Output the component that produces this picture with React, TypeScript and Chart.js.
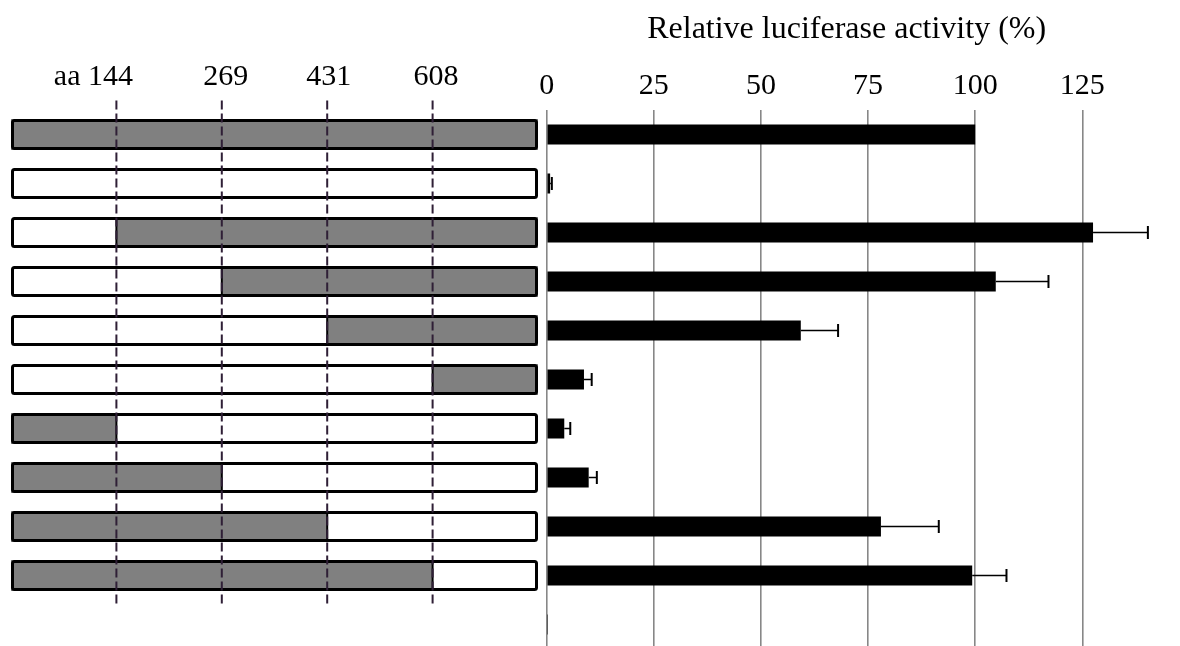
import React, { useEffect, useRef } from 'react';
import { Chart, registerables } from 'chart.js';

Chart.register(...registerables);

// One row per construct, top to bottom; the last row is the empty-vector control.
const constructs = ['1', '2', '3', '4', '5', '6', '7', '8', '9', '10', '11'];
const activity = [100, 0.8, 127.5, 104.8, 59.3, 8.7, 4.1, 9.8, 78.0, 99.3, 0.3];
const activityErr = [0, 0.4, 12.8, 12.3, 8.7, 1.8, 1.4, 1.9, 13.5, 8.0, 0];

// Grey (retained) region of each construct, as a range of the five segments.
// null = no construct drawn for that row.
const grayFrom: (number | null)[] = [0, 0, 1, 2, 3, 4, 0, 0, 0, 0, null];
const grayTo: (number | null)[] = [5, 0, 5, 5, 5, 5, 1, 2, 3, 4, null];

// Amino-acid breakpoints between the segments.
const breakpoints = [144, 269, 431, 608];
const breakpointPrefix = 'aa ';

const xTicks = [0, 25, 50, 75, 100, 125];
const xMax = 140;
const axisTitle = 'Relative luciferase activity (%)';

const SERIF = '"Liberation Serif", "Times New Roman", serif';

// Construct panel geometry (canvas pixels)
const PANEL_LEFT = 11;
const PANEL_RIGHT = 538;
const SEGMENTS = 5;
const BOX_HALF = 15.5;
// horizontal nudge of each breakpoint label relative to its guide line
const LABEL_DX = [-23, 4, 1.5, 3.5];

const constructPanel = {
  id: 'constructPanel',
  afterDraw(chart: any) {
    const ctx: CanvasRenderingContext2D = chart.ctx;
    const yScale = chart.scales.y;
    const segW = (PANEL_RIGHT - PANEL_LEFT) / SEGMENTS;
    const segX = (k: number) => PANEL_LEFT + k * segW;
    ctx.save();

    constructs.forEach((_, i) => {
      const from = grayFrom[i];
      const to = grayTo[i];
      if (from === null || to === null) return;
      const cy = yScale.getPixelForValue(i);
      const top = cy - BOX_HALF;
      const h = BOX_HALF * 2;
      // white body
      ctx.fillStyle = '#ffffff';
      ctx.fillRect(PANEL_LEFT, top, PANEL_RIGHT - PANEL_LEFT, h);
      // grey retained region
      if (to > from) {
        ctx.fillStyle = '#808080';
        ctx.fillRect(segX(from), top, segX(to) - segX(from), h);
      }
      // internal grey/white boundaries
      ctx.strokeStyle = '#000';
      ctx.lineWidth = 2;
      [from, to].forEach((k) => {
        if (to > from && k > 0 && k < SEGMENTS) {
          ctx.beginPath();
          ctx.moveTo(segX(k), top + 1.5);
          ctx.lineTo(segX(k), top + h - 1.5);
          ctx.stroke();
        }
      });
      // outline
      ctx.lineWidth = 3;
      ctx.lineJoin = 'round';
      ctx.beginPath();
      ctx.roundRect(PANEL_LEFT + 1.5, top + 1.5, PANEL_RIGHT - PANEL_LEFT - 3, h - 3, 2);
      ctx.stroke();
    });

    // dashed breakpoint guides
    const firstY = yScale.getPixelForValue(0) - 34;
    const lastY = yScale.getPixelForValue(9) + 30;
    ctx.strokeStyle = '#2f1f36';
    ctx.lineWidth = 2;
    ctx.setLineDash([9, 4]);
    breakpoints.forEach((_, k) => {
      const x = segX(k + 1);
      ctx.beginPath();
      ctx.moveTo(x, firstY);
      ctx.lineTo(x, lastY);
      ctx.stroke();
    });
    ctx.setLineDash([]);

    // breakpoint labels
    ctx.font = `30px ${SERIF}`;
    ctx.fillStyle = '#000';
    ctx.textBaseline = 'alphabetic';
    ctx.textAlign = 'center';
    const labelY = yScale.getPixelForValue(0) - 49.5;
    breakpoints.forEach((aa, k) => {
      const text = (k === 0 ? breakpointPrefix : '') + String(aa);
      ctx.fillText(text, segX(k + 1) + LABEL_DX[k], labelY);
    });
    ctx.restore();
  },
};

const errorBars = {
  id: 'errorBars',
  afterDatasetsDraw(chart: any) {
    const ctx: CanvasRenderingContext2D = chart.ctx;
    const xs = chart.scales.x;
    const ys = chart.scales.y;
    ctx.save();
    ctx.strokeStyle = '#000';
    activity.forEach((v, i) => {
      const e = activityErr[i];
      if (!e) return;
      const y = ys.getPixelForValue(i);
      const x0 = xs.getPixelForValue(v);
      const x1 = xs.getPixelForValue(v + e);
      ctx.lineWidth = 1.5;
      ctx.beginPath();
      ctx.moveTo(x0, y);
      ctx.lineTo(x1, y);
      ctx.stroke();
      ctx.lineWidth = 2;
      ctx.beginPath();
      ctx.moveTo(x1, y - 6.5);
      ctx.lineTo(x1, y + 6.5);
      ctx.stroke();
    });
    ctx.restore();
  },
};

export default function App() {
  const canvasRef = useRef<HTMLCanvasElement | null>(null);

  useEffect(() => {
    if (!canvasRef.current) return;
    const chart = new Chart(canvasRef.current, {
      type: 'bar',
      data: {
        labels: constructs,
        datasets: [
          {
            data: activity,
            backgroundColor: '#000',
            borderWidth: 0,
            barPercentage: 0.41,
            categoryPercentage: 1,
          },
        ],
      },
      options: {
        indexAxis: 'y',
        responsive: false,
        animation: false,
        layout: { padding: { left: 546.7, right: 33.4, top: 0, bottom: 3 } },
        plugins: {
          legend: { display: false },
          tooltip: { enabled: false },
          title: {
            display: true,
            text: axisTitle,
            fullSize: false,
            color: '#000',
            font: { family: SERIF, size: 32, weight: 'normal' },
            padding: { top: 10.5, bottom: 14.1 },
          },
        },
        scales: {
          x: {
            position: 'top',
            min: 0,
            max: xMax,
            afterBuildTicks: (scale: any) => {
              scale.ticks = xTicks.map((value) => ({ value }));
            },
            border: { display: false },
            grid: { color: '#878787', lineWidth: 1.6, drawTicks: false },
            ticks: {
              padding: 5.5,
              color: '#000',
              font: { family: SERIF, size: 30 },
            },
          },
          y: {
            display: false,
          },
        },
      },
      plugins: [constructPanel, errorBars],
    });
    return () => chart.destroy();
  }, []);

  return (
    <div
      style={{
        position: 'fixed',
        left: 0,
        top: 0,
        width: 1180,
        height: 646,
        overflow: 'hidden',
        background: '#fff',
      }}
    >
      <canvas ref={canvasRef} width={1180} height={652} style={{ display: 'block' }} />
    </div>
  );
}
